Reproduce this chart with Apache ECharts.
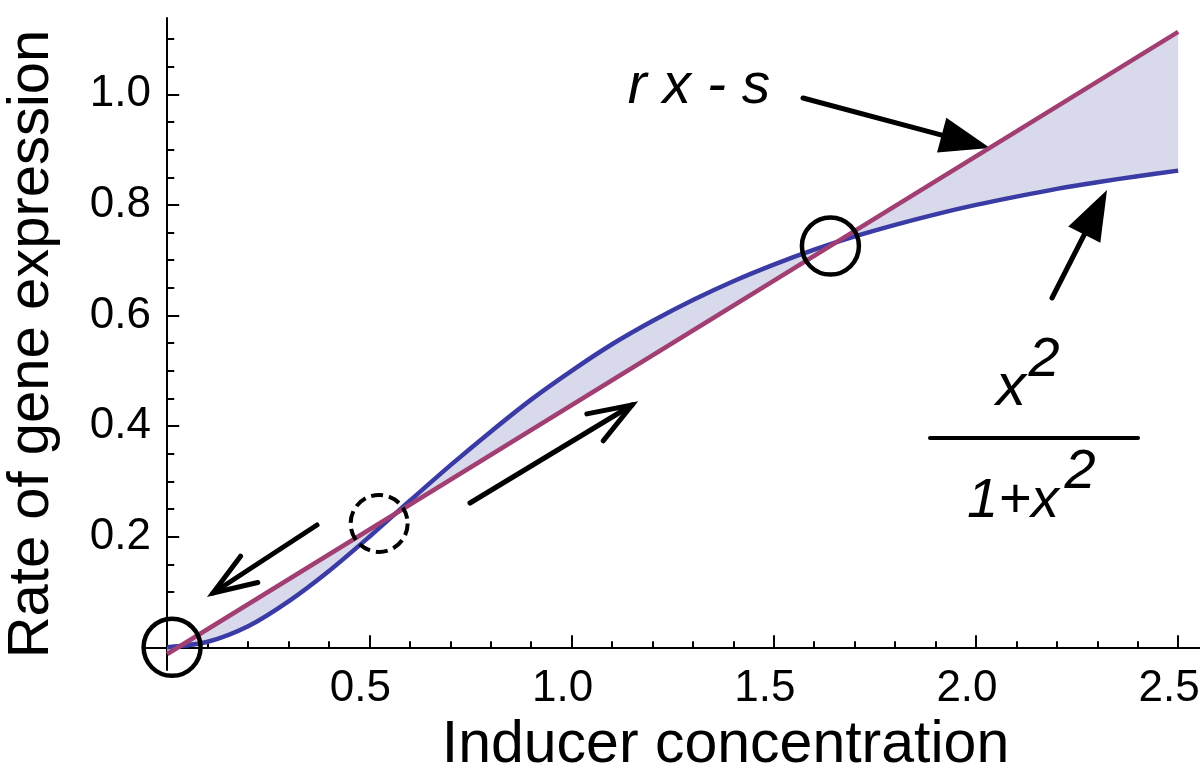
<!DOCTYPE html>
<html>
<head>
<meta charset="utf-8">
<script src="https://cdn.jsdelivr.net/npm/echarts@6/dist/echarts.min.js"></script>
<style>
  html, body { margin: 0; padding: 0; background: #fff; }
  #chart { width: 1200px; height: 779px; }
</style>
</head>
<body>
<div id="chart"></div>
<script>
// inducer concentration, read every 0.1
const inducerX = [0, 0.1, 0.2, 0.3, 0.4, 0.5, 0.6, 0.7, 0.8, 0.9, 1.0, 1.1, 1.2,
  1.3, 1.4, 1.5, 1.6, 1.7, 1.8, 1.9, 2.0, 2.1, 2.2, 2.3, 2.4, 2.5]
// x^2/(1+x^2) curve
const hillCurve = [0, 0.010, 0.038, 0.083, 0.138, 0.200, 0.265, 0.329, 0.390, 0.448,
  0.500, 0.548, 0.590, 0.628, 0.662, 0.692, 0.719, 0.743, 0.764, 0.783, 0.800,
  0.815, 0.829, 0.841, 0.852, 0.862]
// straight line r x - s (end points)
const lineX = [0, 2.5]
const lineY = [-0.012, 1.113]
// fixed points (circles)
const stableX = [0.012, 1.64]
const stableY = [0, 0.7255]
const unstableX = [0.524]
const unstableY = [0.224]
// ticks
const xMajorTicks = [0.5, 1.0, 1.5, 2.0, 2.5]
const xMinorTicks = [0.1, 0.2, 0.3, 0.4, 0.6, 0.7, 0.8, 0.9, 1.1, 1.2, 1.3, 1.4,
  1.6, 1.7, 1.8, 1.9, 2.1, 2.2, 2.3, 2.4]
const yMajorTicks = [0.2, 0.4, 0.6, 0.8, 1.0]
const yMinorTicks = [0.05, 0.1, 0.15, 0.25, 0.3, 0.35, 0.45, 0.5, 0.55, 0.65, 0.7,
  0.75, 0.85, 0.9, 0.95, 1.05, 1.1]

const BLUE = '#3b3ba6'
const RED = '#a23f72'
const FILL = '#d9d9ec'
const FONT = '"Liberation Sans", Arial, sans-serif'

const chart = echarts.init(document.getElementById('chart'), null, { renderer: 'canvas' })

// base axis settings shared by the major / minor axes
const axisBase = (extra) => Object.assign({
  type: 'value',
  splitLine: { show: false },
  axisLine: { onZero: true, onZeroAxisIndex: 0, lineStyle: { color: '#000', width: 2 } }
}, extra)

// arrow helpers (annotation only)
function filledArrow (x1, y1, x2, y2, headLen, headHalf) {
  const len = Math.hypot(x2 - x1, y2 - y1)
  const ux = (x2 - x1) / len, uy = (y2 - y1) / len
  const bx = x2 - ux * headLen, by = y2 - uy * headLen
  return [
    { type: 'line', shape: { x1, y1, x2: bx + ux * 4, y2: by + uy * 4 },
      style: { stroke: '#000', lineWidth: 5, lineCap: 'round' } },
    { type: 'polygon', shape: { points: [[x2, y2], [bx - uy * headHalf, by + ux * headHalf], [bx + uy * headHalf, by - ux * headHalf]] },
      style: { fill: '#000' } }
  ]
}
function openArrow (x1, y1, x2, y2, armLen, angleDeg) {
  const a = Math.atan2(y1 - y2, x1 - x2)
  const d = angleDeg * Math.PI / 180
  return [
    { type: 'line', shape: { x1, y1, x2, y2 }, style: { stroke: '#000', lineWidth: 5, lineCap: 'round' } },
    { type: 'polyline', shape: { points: [
      [x2 + armLen * Math.cos(a + d), y2 + armLen * Math.sin(a + d)],
      [x2, y2],
      [x2 + armLen * Math.cos(a - d), y2 + armLen * Math.sin(a - d)]
    ] }, style: { stroke: '#000', lineWidth: 5, lineCap: 'round', lineJoin: 'miter', fill: null } }
  ]
}
function label (text, x, y, size) {
  return { type: 'text', x, y, style: { text, fill: '#000', font: 'italic ' + size + 'px ' + FONT, align: 'center', verticalAlign: 'middle' } }
}

chart.setOption({
  animation: false,
  backgroundColor: '#fff',
  grid: { left: 145, right: 0, top: 18, bottom: 109, containLabel: false, outerBoundsMode: 'none' },
  xAxis: [
    axisBase({
      min: -0.055, max: 2.554, position: 'bottom',
      name: 'Inducer concentration', nameLocation: 'middle', nameGap: 46,
      nameTextStyle: { fontSize: 59, fontFamily: FONT, color: '#000', padding: [0, 0, 0, 106] },
      axisTick: { inside: true, length: 12, customValues: xMajorTicks, lineStyle: { color: '#000', width: 2 } },
      axisLabel: { customValues: xMajorTicks, margin: -3, fontSize: 44, fontFamily: FONT, color: '#000',
        padding: [0, 18, 0, 0], formatter: v => v.toFixed(1) }
    }),
    axisBase({
      min: -0.055, max: 2.554, position: 'bottom',
      axisLine: { show: false, onZero: true, onZeroAxisIndex: 0 },
      axisTick: { inside: true, length: 6, customValues: xMinorTicks, lineStyle: { color: '#000', width: 2 } },
      axisLabel: { show: false }
    })
  ],
  yAxis: [
    axisBase({
      min: -0.041, max: 1.138, position: 'left',
      name: 'Rate of gene expression', nameLocation: 'middle', nameGap: 84,
      nameTextStyle: { fontSize: 58, fontFamily: FONT, color: '#000' },
      axisTick: { inside: true, length: 12, customValues: yMajorTicks, lineStyle: { color: '#000', width: 2 } },
      axisLabel: { customValues: yMajorTicks, margin: -6, fontSize: 44, fontFamily: FONT, color: '#000',
        formatter: v => v.toFixed(1) }
    }),
    axisBase({
      min: -0.041, max: 1.138, position: 'left',
      axisLine: { show: false, onZero: true, onZeroAxisIndex: 0 },
      axisTick: { inside: true, length: 7, customValues: yMinorTicks, lineStyle: { color: '#000', width: 2 } },
      axisLabel: { show: false }
    })
  ],
  series: [
    {
      // shaded region between the curve and the line
      type: 'custom',
      z: 1,
      silent: true,
      data: [[0, 0]],
      renderItem: (params, api) => {
        const pts = inducerX.map((x, i) => api.coord([x, hillCurve[i]]))
        for (let i = lineX.length - 1; i >= 0; i--) pts.push(api.coord([lineX[i], lineY[i]]))
        return { type: 'polygon', shape: { points: pts }, style: { fill: FILL } }
      }
    },
    {
      type: 'line',
      z: 3,
      silent: true,
      symbol: 'none',
      smooth: 0.3,
      data: inducerX.map((x, i) => [x, hillCurve[i]]),
      lineStyle: { color: BLUE, width: 4.5 }
    },
    {
      type: 'line',
      z: 4,
      silent: true,
      symbol: 'none',
      data: lineX.map((x, i) => [x, lineY[i]]),
      lineStyle: { color: RED, width: 4.5 }
    },
    {
      type: 'scatter',
      z: 5,
      clip: false,
      silent: true,
      symbol: 'circle',
      symbolSize: 57,
      data: stableX.map((x, i) => [x, stableY[i]]),
      itemStyle: { color: 'rgba(0,0,0,0)', borderColor: '#000', borderWidth: 4.5, opacity: 1 }
    },
    {
      type: 'scatter',
      z: 5,
      clip: false,
      silent: true,
      symbol: 'circle',
      symbolSize: 57,
      data: unstableX.map((x, i) => [x, unstableY[i]]),
      itemStyle: { color: 'rgba(0,0,0,0)', borderColor: '#000', borderWidth: 4, borderType: [12, 6], opacity: 1 }
    }
  ],
  graphic: [
    ...filledArrow(803, 98, 990, 148, 50, 18),
    ...filledArrow(1052, 298, 1107, 190, 50, 18),
    ...openArrow(470, 503, 632, 405, 46, 20),
    ...openArrow(317, 525, 213, 593, 46, 20),
    label('r x - s', 699, 87, 57),
    label('x', 1011, 388, 60),
    label('2', 1044, 360, 56),
    { type: 'line', shape: { x1: 930, y1: 438, x2: 1138, y2: 438 }, style: { stroke: '#000', lineWidth: 4, lineCap: 'round' } },
    label('1+x', 1013, 501, 56),
    label('2', 1080, 472, 56)
  ]
})
</script>
</body>
</html>
